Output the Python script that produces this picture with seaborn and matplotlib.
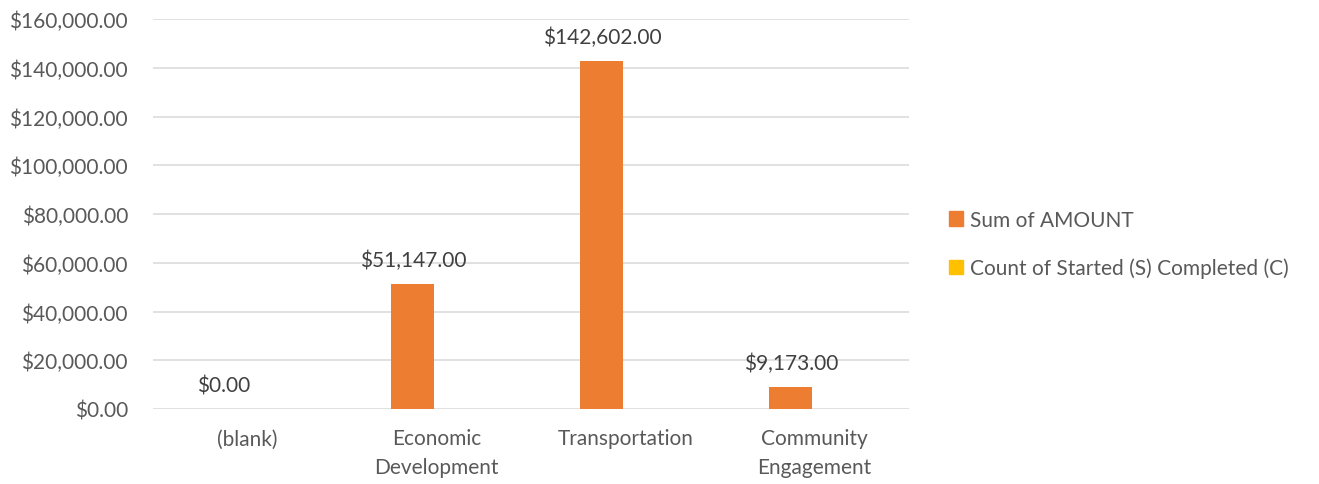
import pandas as pd
import numpy as np
import seaborn as sns
import matplotlib.pyplot as plt
from matplotlib.ticker import FuncFormatter, MultipleLocator

categories = ['(blank)', 'Economic\nDevelopment', 'Transportation', 'Community\nEngagement']
sum_amount = [0.0, 51147.0, 142602.0, 9173.0]
count_started = [0, 0, 0, 0]
series_names = ['Sum of AMOUNT', 'Count of Started (S) Completed (C)']

df = pd.DataFrame({
    'category': categories * 2,
    'value': sum_amount + count_started,
    'series': [series_names[0]] * 4 + [series_names[1]] * 4,
})

sns.set_style('white')
plt.rcParams['font.family'] = ['Lato', 'DejaVu Sans']

fig = plt.figure(figsize=(13.19, 4.85), dpi=100)
ax = fig.add_axes([153 / 1319, 1 - 410 / 485, 756 / 1319, 390 / 485])

sns.barplot(data=df, x='category', y='value', hue='series', order=categories,
            hue_order=series_names, palette=['#ed7d31', '#ffc000'], saturation=1,
            width=0.5, gap=0.09, linewidth=0, ax=ax, legend=False)

ax.set_ylim(0, 160000)
ax.yaxis.set_major_locator(MultipleLocator(20000))
ax.yaxis.set_major_formatter(FuncFormatter(lambda v, p: f'${v:,.2f}'))
ax.grid(axis='y', color='#d9d9d9', linewidth=1.1)
ax.set_axisbelow(True)
for s in ax.spines.values():
    s.set_visible(False)
ax.tick_params(axis='both', length=0, labelsize=15, labelcolor='#595959')
ax.tick_params(axis='x', pad=14)
ax.tick_params(axis='y', pad=18)
for t in ax.get_xticklabels():
    t.set_linespacing(1.55)
ax.set_xlabel('')
ax.set_ylabel('')
ax.set_xlim(-0.5, 3.5)

ax.bar_label(ax.containers[0], labels=[f'${v:,.2f}' for v in sum_amount],
             padding=10, fontsize=15, color='#404040')

handles = [plt.Rectangle((0, 0), 1, 1, color=c) for c in ['#ed7d31', '#ffc000']]
fig.legend(handles, series_names, loc='center left', bbox_to_anchor=(930 / 1319, 1 - 245 / 485),
           frameon=False, fontsize=15, labelcolor='#595959', handlelength=0.7,
           handleheight=0.7, handletextpad=0.3, labelspacing=1.35)

fig.savefig('out.png', dpi=100)
